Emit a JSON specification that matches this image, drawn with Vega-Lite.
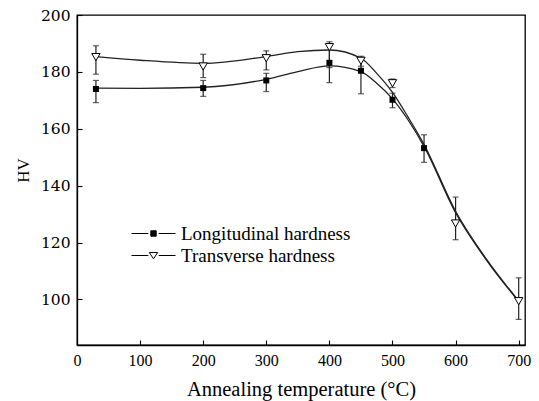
{
  "$schema": "https://vega.github.io/schema/vega-lite/v6.json",
  "width": 448,
  "height": 330,
  "autosize": {"type": "none"},
  "padding": {"left": 77, "top": 15, "right": 14, "bottom": 56},
  "background": "white",
  "config": {
    "view": {"stroke": "black", "strokeWidth": 1.3},
    "axis": {"domainColor": "black", "domainWidth": 1.3, "tickColor": "black", "tickWidth": 1.1, "grid": false, "labelColor": "black", "titleColor": "black"}
  },
  "datasets": {
    "markers": [
      {"T": 30, "series": "Longitudinal hardness", "HV": 174.0, "lo": 169.2, "hi": 177.0},
      {"T": 200, "series": "Longitudinal hardness", "HV": 174.3, "lo": 171.4, "hi": 177.0},
      {"T": 300, "series": "Longitudinal hardness", "HV": 177.0, "lo": 173.1, "hi": 179.5},
      {"T": 400, "series": "Longitudinal hardness", "HV": 183.2, "lo": 176.2, "hi": 189.5},
      {"T": 450, "series": "Longitudinal hardness", "HV": 180.4, "lo": 172.3, "hi": 185.0},
      {"T": 500, "series": "Longitudinal hardness", "HV": 170.2, "lo": 167.4, "hi": 172.5},
      {"T": 550, "series": "Longitudinal hardness", "HV": 153.2, "lo": 148.2, "hi": 157.9},
      {"T": 30, "series": "Transverse hardness", "HV": 185.2, "lo": 179.2, "hi": 189.2},
      {"T": 200, "series": "Transverse hardness", "HV": 181.9, "lo": 178.0, "hi": 186.2},
      {"T": 300, "series": "Transverse hardness", "HV": 184.8, "lo": 180.7, "hi": 187.4},
      {"T": 400, "series": "Transverse hardness", "HV": 188.7, "lo": 181.5, "hi": 190.6},
      {"T": 450, "series": "Transverse hardness", "HV": 183.9, "lo": 182.0, "hi": 185.5},
      {"T": 500, "series": "Transverse hardness", "HV": 176.0, "lo": 174.5, "hi": 177.5},
      {"T": 600, "series": "Transverse hardness", "HV": 126.7, "lo": 121.0, "hi": 136.0},
      {"T": 700, "series": "Transverse hardness", "HV": 99.4, "lo": 93.0, "hi": 107.6}
    ],
    "curves": [
      {"T": 30, "series": "Longitudinal hardness", "HV": 174.3},
      {"T": 100, "series": "Longitudinal hardness", "HV": 174.2},
      {"T": 200, "series": "Longitudinal hardness", "HV": 174.6},
      {"T": 300, "series": "Longitudinal hardness", "HV": 177.4},
      {"T": 350, "series": "Longitudinal hardness", "HV": 180.1},
      {"T": 400, "series": "Longitudinal hardness", "HV": 182.1},
      {"T": 450, "series": "Longitudinal hardness", "HV": 180.1},
      {"T": 475, "series": "Longitudinal hardness", "HV": 176.0},
      {"T": 500, "series": "Longitudinal hardness", "HV": 170.5},
      {"T": 525, "series": "Longitudinal hardness", "HV": 163.0},
      {"T": 550, "series": "Longitudinal hardness", "HV": 153.8},
      {"T": 600, "series": "Longitudinal hardness", "HV": 130.5},
      {"T": 650, "series": "Longitudinal hardness", "HV": 113.5},
      {"T": 700, "series": "Longitudinal hardness", "HV": 99.3},
      {"T": 30, "series": "Transverse hardness", "HV": 185.4},
      {"T": 100, "series": "Transverse hardness", "HV": 184.1},
      {"T": 200, "series": "Transverse hardness", "HV": 183.0},
      {"T": 300, "series": "Transverse hardness", "HV": 185.4},
      {"T": 350, "series": "Transverse hardness", "HV": 187.1},
      {"T": 400, "series": "Transverse hardness", "HV": 187.7},
      {"T": 450, "series": "Transverse hardness", "HV": 184.8},
      {"T": 475, "series": "Transverse hardness", "HV": 179.5},
      {"T": 500, "series": "Transverse hardness", "HV": 172.8},
      {"T": 525, "series": "Transverse hardness", "HV": 164.0},
      {"T": 550, "series": "Transverse hardness", "HV": 154.5},
      {"T": 600, "series": "Transverse hardness", "HV": 131.0},
      {"T": 650, "series": "Transverse hardness", "HV": 113.8},
      {"T": 700, "series": "Transverse hardness", "HV": 99.5}
    ]
  },
  "encoding": {
    "x": {
      "field": "T", "type": "quantitative",
      "scale": {"domain": [0, 710], "nice": false, "zero": false},
      "axis": {
        "title": "Annealing temperature (°C)",
        "values": [0, 100, 200, 300, 400, 500, 600, 700],
        "tickSize": -5, "labelPadding": 12,
        "labelFont": "Liberation Serif", "labelFontSize": 16,
        "titleFont": "Liberation Serif", "titleFontSize": 20.5, "titleFontWeight": "normal", "titlePadding": 11,
        "labelFlush": false
      }
    }
  },
  "layer": [
    {
      "data": {"name": "curves"},
      "mark": {"type": "line", "interpolate": "monotone", "color": "#222222", "strokeWidth": 1.3},
      "encoding": {
        "y": {
          "field": "HV", "type": "quantitative",
          "scale": {"domain": [84, 200], "nice": false, "zero": false},
          "axis": {
            "title": "HV",
            "values": [100, 120, 140, 160, 180, 200],
            "tickSize": -5, "labelPadding": 12,
            "labelFont": "DejaVu Serif", "labelFontSize": 15.5,
            "titleFont": "Liberation Serif", "titleFontSize": 17, "titleFontWeight": "normal",
            "titleX": -45, "titleY": 155,
            "labelFlush": false
          }
        },
        "detail": {"field": "series", "type": "nominal"}
      }
    },
    {
      "data": {"name": "markers"},
      "mark": {"type": "rule", "color": "#222222", "strokeWidth": 1.2},
      "encoding": {
        "y": {"field": "lo", "type": "quantitative", "title": "HV"},
        "y2": {"field": "hi"}
      }
    },
    {
      "data": {"name": "markers"},
      "mark": {"type": "tick", "orient": "horizontal", "color": "#222222", "size": 6, "thickness": 1.2},
      "encoding": {
        "y": {"field": "lo", "type": "quantitative", "title": "HV"}
      }
    },
    {
      "data": {"name": "markers"},
      "mark": {"type": "tick", "orient": "horizontal", "color": "#222222", "size": 6, "thickness": 1.2},
      "encoding": {
        "y": {"field": "hi", "type": "quantitative", "title": "HV"}
      }
    },
    {
      "data": {"name": "markers"},
      "transform": [{"filter": "datum.series == 'Longitudinal hardness'"}],
      "mark": {"type": "point", "shape": "square", "filled": true, "color": "black", "size": 36, "opacity": 1},
      "encoding": {
        "y": {"field": "HV", "type": "quantitative", "title": "HV"}
      }
    },
    {
      "data": {"name": "markers"},
      "transform": [{"filter": "datum.series == 'Transverse hardness'"}],
      "mark": {"type": "point", "shape": "triangle-down", "filled": false, "fill": "white", "fillOpacity": 1, "stroke": "black", "strokeWidth": 1, "size": 70, "opacity": 1},
      "encoding": {
        "y": {"field": "HV", "type": "quantitative", "title": "HV"}
      }
    },
    {
      "data": {"name": "markers"},
      "mark": {"type": "point", "filled": true, "opacity": 0, "size": 0, "strokeWidth": 1},
      "encoding": {
        "y": {"field": "HV", "type": "quantitative", "title": "HV"},
        "shape": {
          "field": "series", "type": "nominal",
          "scale": {"range": ["M-4.4,0H-1.04M1.04,0H4.4M-0.54,-0.54H0.54V0.54H-0.54Z", "M-4.4,0H-1.04M1.04,0H4.4M-0.84,-0.6H0.84L0,0.66Z"]},
          "legend": {
            "title": null, "orient": "none", "legendX": 67, "legendY": 209,
            "symbolSize": 100, "symbolStrokeColor": "black", "symbolStrokeWidth": 1, "symbolOpacity": 1,
            "labelFont": "Liberation Serif", "labelFontSize": 19, "labelColor": "black", "labelOffset": 18, "labelLimit": 400,
            "rowPadding": 2, "padding": 0
          }
        },
        "fill": {
          "field": "series", "type": "nominal",
          "scale": {"range": ["black", "white"]},
          "legend": {
            "title": null, "orient": "none", "legendX": 67, "legendY": 209,
            "symbolSize": 100, "symbolStrokeColor": "black", "symbolStrokeWidth": 1, "symbolOpacity": 1,
            "labelFont": "Liberation Serif", "labelFontSize": 19, "labelColor": "black", "labelOffset": 18, "labelLimit": 400,
            "rowPadding": 2, "padding": 0
          }
        },
        "stroke": {
          "field": "series", "type": "nominal",
          "scale": {"range": ["black", "black"]},
          "legend": {
            "title": null, "orient": "none", "legendX": 67, "legendY": 209,
            "symbolSize": 100, "symbolStrokeColor": "black", "symbolStrokeWidth": 1, "symbolOpacity": 1,
            "labelFont": "Liberation Serif", "labelFontSize": 19, "labelColor": "black", "labelOffset": 18, "labelLimit": 400,
            "rowPadding": 2, "padding": 0
          }
        }
      }
    }
  ]
}
